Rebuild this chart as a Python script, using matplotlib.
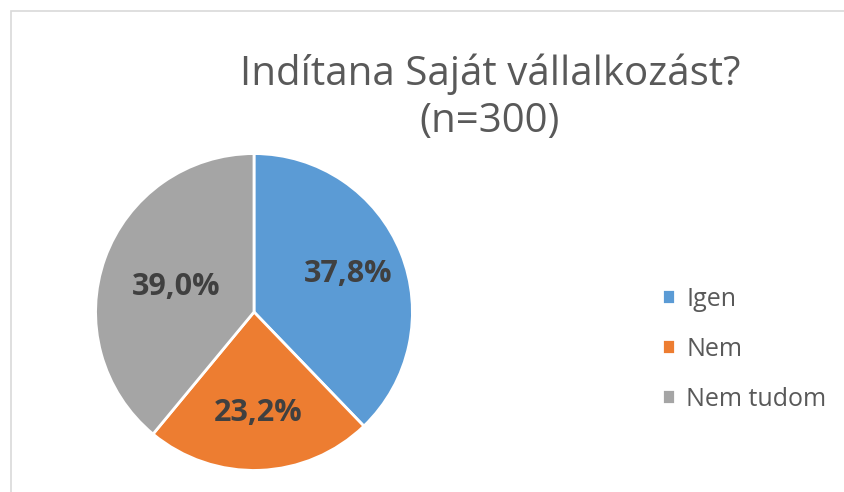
import matplotlib.pyplot as plt
import numpy as np
from matplotlib.patches import Rectangle

labels = ['Igen', 'Nem', 'Nem tudom']
values = [37.8, 23.2, 39.0]
colors = ['#5b9bd5', '#ed7d31', '#a5a5a5']

plt.rcParams['font.family'] = ['Open Sans', 'DejaVu Sans']

fig = plt.figure(figsize=(8.44, 4.92), dpi=100)

# chart border (Excel-like frame)
fig.patches.append(Rectangle((11 / 844, -0.1), 1.2, 1 - 11 / 492 + 0.1,
                             transform=fig.transFigure, fill=False,
                             edgecolor='#d9d9d9', linewidth=1.2))

ax = fig.add_axes([94 / 844, 20 / 492, 320 / 844, 320 / 492])
wedges, texts, autotexts = ax.pie(
    values, colors=colors, startangle=90, counterclock=False,
    autopct=lambda p: f'{p:.1f}%'.replace('.', ','), pctdistance=0.64,
    wedgeprops=dict(edgecolor='white', linewidth=2),
    textprops=dict(fontsize=22, fontweight='bold', color='#404040'))
# nudge the last label inward like the original
x, y = autotexts[2].get_position()
autotexts[2].set_position((x * 0.82, y * 0.82 - 0.02))
ax.set_xlim(-1.01, 1.01)
ax.set_ylim(-1.01, 1.01)
ax.set_aspect('equal')

fig.text(490 / 844, 1 - 98 / 492, 'Indítana Saját vállalkozást?\n(n=300)',
         ha='center', va='center', fontsize=29, color='#595959',
         linespacing=1.2)

fig.legend(wedges, labels, loc='center left', bbox_to_anchor=(639 / 844, 1 - 349 / 492),
           frameon=False, fontsize=18, labelcolor='#595959',
           handlelength=0.55, handleheight=0.55, handletextpad=0.45,
           labelspacing=1.0)

plt.savefig('out.png', dpi=100)
